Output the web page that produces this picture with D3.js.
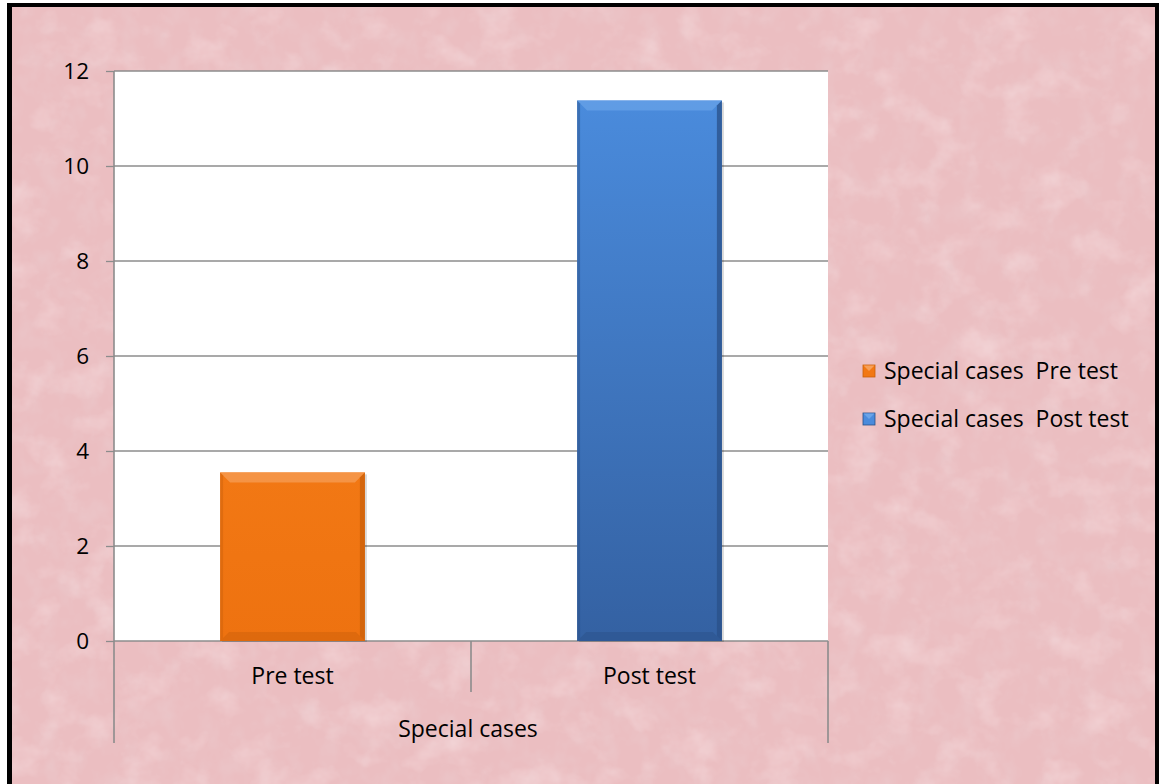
<!DOCTYPE html>
<html>
<head>
<meta charset="utf-8">
<script src="https://cdn.jsdelivr.net/npm/d3@7"></script>
<style>
  html, body { margin: 0; padding: 0; background: #fff; }
  svg { display: block; font-family: "Open Sans", sans-serif; }
  text { white-space: pre; }
</style>
</head>
<body>
<div id="chart"></div>
<script>
const categories = ["Pre test", "Post test"];
const values = [3.55, 11.38];
const seriesNames = ["Special cases  Pre test", "Special cases  Post test"];
const groupLabel = "Special cases";
const yTicks = [0, 2, 4, 6, 8, 10, 12];

const width = 1159, height = 784;
const plot = { left: 114, right: 828, top: 71, bottom: 641 };

const colors = [
  { top: "#f7a05a", mid: "#f27814", bottom: "#ee7210", edge: "#c9600b" },
  { top: "#6aa4e8", mid: "#4a8bdc", bottom: "#3461a2", edge: "#2a5088" },
];

const svg = d3.select("#chart").append("svg")
  .attr("width", width).attr("height", height);

const defs = svg.append("defs");

// textured pink background
const tex = defs.append("filter").attr("id", "paper")
  .attr("x", 0).attr("y", 0).attr("width", "100%").attr("height", "100%");
tex.append("feTurbulence").attr("type", "fractalNoise")
  .attr("baseFrequency", "0.025 0.03").attr("numOctaves", 4).attr("seed", 3).attr("result", "n");
tex.append("feColorMatrix").attr("in", "n").attr("type", "matrix")
  .attr("values", "0 0 0 0 0.97  0 0 0 0 0.84  0 0 0 0 0.85  0 0 0 -0.9 0.45");

const tex2 = defs.append("filter").attr("id", "paper-dark")
  .attr("x", 0).attr("y", 0).attr("width", "100%").attr("height", "100%");
tex2.append("feTurbulence").attr("type", "fractalNoise")
  .attr("baseFrequency", "0.05 0.04").attr("numOctaves", 3).attr("seed", 11).attr("result", "n");
tex2.append("feColorMatrix").attr("in", "n").attr("type", "matrix")
  .attr("values", "0 0 0 0 0.82  0 0 0 0 0.62  0 0 0 0 0.64  0 0 0 0.9 -0.4");

colors.forEach((c, i) => {
  const g = defs.append("linearGradient").attr("id", `bar-${i}`)
    .attr("x1", 0).attr("y1", 0).attr("x2", 0).attr("y2", 1);
  g.append("stop").attr("offset", "0%").attr("stop-color", c.mid);
  g.append("stop").attr("offset", "100%").attr("stop-color", c.bottom);
});

// page background and frame
svg.append("rect").attr("x", 7).attr("y", 3).attr("width", width - 7).attr("height", height - 3)
  .attr("fill", "#000");
svg.append("rect").attr("x", 12).attr("y", 7).attr("width", width - 16).attr("height", height - 7)
  .attr("fill", "#ebbec1");
svg.append("rect").attr("x", 12).attr("y", 7).attr("width", width - 16).attr("height", height - 7)
  .attr("filter", "url(#paper-dark)");
svg.append("rect").attr("x", 12).attr("y", 7).attr("width", width - 16).attr("height", height - 7)
  .attr("filter", "url(#paper)");

const x = d3.scaleBand().domain(categories)
  .range([plot.left, plot.right]).paddingInner(0).paddingOuter(0);
const y = d3.scaleLinear().domain([0, 12]).range([plot.bottom, plot.top]);

const bandInset = 0.3;

// plot area
svg.append("rect")
  .attr("x", plot.left).attr("y", plot.top)
  .attr("width", plot.right - plot.left).attr("height", plot.bottom - plot.top)
  .attr("fill", "#fff");

// y axis ticks + labels
svg.append("g")
  .attr("transform", `translate(${plot.left},0)`)
  .call(d3.axisLeft(y).tickValues(yTicks).tickSize(8).tickPadding(17).tickFormat(d3.format("d")))
  .call((g) => g.select(".domain").remove())
  .call((g) => g.selectAll(".tick line").attr("stroke", "#8c8c8c").attr("stroke-width", 1.3))
  .call((g) => g.selectAll(".tick text").attr("fill", "#000")
    .style("font-size", "22.5px").style("font-family", "'Open Sans', sans-serif"));

// gridlines
svg.append("g").selectAll("line")
  .data(yTicks)
  .join("line")
  .attr("x1", plot.left).attr("x2", plot.right)
  .attr("y1", (d) => y(d)).attr("y2", (d) => y(d))
  .attr("stroke", "#8c8c8c").attr("stroke-width", 1.3);

// vertical axis line and category separators
const sepLines = [
  { x: plot.left, y2: 743 },
  { x: x(categories[1]), y2: 692 },
  { x: plot.right, y2: 743 },
];
svg.append("g").selectAll("line")
  .data(sepLines)
  .join("line")
  .attr("x1", (d) => d.x).attr("x2", (d) => d.x)
  .attr("y1", (d, i) => (i === 0 ? plot.top : plot.bottom)).attr("y2", (d) => d.y2)
  .attr("stroke", "#8c8c8c").attr("stroke-width", 1.6);

// bars
const bars = svg.append("g").selectAll("g.bar")
  .data(values.map((v, i) => ({ cat: categories[i], v, i })))
  .join("g").attr("class", "bar");

const bx = (d) => x(d.cat) + x.bandwidth() * bandInset - 1;
const bw = x.bandwidth() * (1 - 2 * bandInset) + 2;

bars.append("rect")
  .attr("x", (d) => bx(d) + 2).attr("y", (d) => y(d.v) + 2)
  .attr("width", bw).attr("height", (d) => plot.bottom - y(d.v) - 1)
  .attr("fill", "#000").attr("opacity", 0.15);

bars.append("rect")
  .attr("x", bx).attr("y", (d) => y(d.v))
  .attr("width", bw).attr("height", (d) => plot.bottom - y(d.v))
  .attr("fill", (d) => `url(#bar-${d.i})`);

// bevel: top highlight, side and bottom shading
bars.append("path")
  .attr("d", (d) => {
    const x0 = bx(d), x1 = bx(d) + bw, t = y(d.v);
    return `M${x0},${t}L${x1},${t}L${x1 - 10},${t + 10}L${x0 + 10},${t + 10}Z`;
  })
  .attr("fill", (d) => colors[d.i].top).attr("opacity", 0.7);
bars.append("path")
  .attr("d", (d) => {
    const x0 = bx(d), t = y(d.v), b = plot.bottom;
    return `M${x0},${t}L${x0 + 3},${t + 3}L${x0 + 3},${b - 3}L${x0},${b}Z`;
  })
  .attr("fill", (d) => colors[d.i].edge).attr("opacity", 0.45);
bars.append("path")
  .attr("d", (d) => {
    const x1 = bx(d) + bw, t = y(d.v), b = plot.bottom;
    return `M${x1},${t}L${x1 - 5},${t + 5}L${x1 - 5},${b - 5}L${x1},${b}Z`;
  })
  .attr("fill", (d) => colors[d.i].edge).attr("opacity", 0.75);
bars.append("path")
  .attr("d", (d) => {
    const x0 = bx(d), x1 = bx(d) + bw, b = plot.bottom;
    return `M${x0},${b}L${x1},${b}L${x1 - 9},${b - 9}L${x0 + 9},${b - 9}Z`;
  })
  .attr("fill", (d) => colors[d.i].edge).attr("opacity", 0.45);

// category labels
svg.append("g").selectAll("text")
  .data(categories)
  .join("text")
  .attr("x", (d) => x(d) + x.bandwidth() / 2)
  .attr("y", 684)
  .attr("text-anchor", "middle")
  .attr("font-size", 23)
  .attr("fill", "#000")
  .text((d) => d);

svg.append("text")
  .attr("x", (plot.left + plot.right) / 2 - 3)
  .attr("y", 737)
  .attr("text-anchor", "middle")
  .attr("font-size", 23)
  .attr("fill", "#000")
  .text(groupLabel);

// legend
const legend = svg.append("g").selectAll("g")
  .data(seriesNames)
  .join("g")
  .attr("transform", (d, i) => `translate(863,${371 + i * 48})`);

legend.append("rect")
  .attr("x", 0).attr("y", -6).attr("width", 12).attr("height", 12)
  .attr("fill", (d, i) => colors[i].mid).attr("stroke", (d, i) => colors[i].edge).attr("stroke-width", 0.8);
legend.append("path")
  .attr("d", "M0.5,-5.5L11.5,-5.5L6,0Z")
  .attr("fill", (d, i) => colors[i].top);

legend.append("text")
  .attr("x", 21).attr("y", 8)
  .attr("font-size", 23)
  .attr("fill", "#000")
  .text((d) => d);
</script>
</body>
</html>
